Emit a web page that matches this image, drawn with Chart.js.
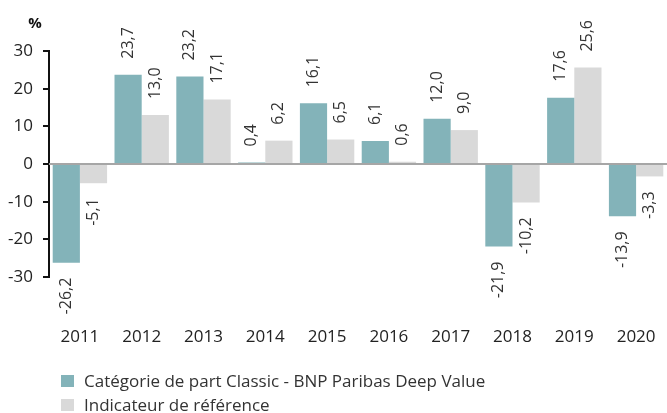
<!DOCTYPE html>
<html>
<head>
<meta charset="utf-8">
<script src="https://cdn.jsdelivr.net/npm/chart.js@4"></script>
<style>
  html, body { margin: 0; padding: 0; background: #fff; }
  #wrap { position: relative; width: 667px; height: 413px; }
</style>
</head>
<body>
<div id="wrap"><canvas id="chart1" width="667" height="413"></canvas></div>
<script>
const years = ['2011','2012','2013','2014','2015','2016','2017','2018','2019','2020'];
const fundVals = [-26.2, 23.7, 23.2, 0.4, 16.1, 6.1, 12.0, -21.9, 17.6, -13.9];
const benchVals = [-5.1, 13.0, 17.1, 6.2, 6.5, 0.6, 9.0, -10.2, 25.6, -3.3];
const seriesNames = ['Catégorie de part Classic - BNP Paribas Deep Value', 'Indicateur de référence'];
const yTicks = [-30, -20, -10, 0, 10, 20, 30];

const colorHex = ['#83b3b9', '#d9d9d9'];
const fontName = "'Open Sans', 'DejaVu Sans', sans-serif";

// value labels, rotated, above or below each bar
const barLabels = {
  id: 'barLabels',
  afterDatasetsDraw(chart) {
    let ctx = chart.ctx;
    ctx.save();
    ctx.font = '16px ' + fontName;
    ctx.fillStyle = '#333';
    chart.data.datasets.forEach((ds, i) => {
      chart.getDatasetMeta(i).data.forEach((bar, j) => {
        let v = ds.data[j];
        let txt = v.toFixed(1).replace('.', ',');
        ctx.save();
        ctx.translate(bar.x, bar.y);
        ctx.rotate(-Math.PI / 2);
        ctx.textBaseline = 'middle';
        if (v >= 0) {
          ctx.textAlign = 'left';
          ctx.fillText(txt, 16, 0);
        } else {
          ctx.textAlign = 'right';
          ctx.fillText(txt, -15, 0);
        }
        ctx.restore();
      });
    });
    ctx.restore();
  }
};

// zero line + % label + legend
const extras = {
  id: 'extras',
  beforeDatasetsDraw(chart) {
    let ctx = chart.ctx;
    let y0 = chart.scales.y.getPixelForValue(0);
    ctx.save();
    ctx.strokeStyle = '#a6a6a6';
    ctx.lineWidth = 2;
    ctx.beginPath();
    ctx.moveTo(chart.chartArea.left, y0);
    ctx.lineTo(chart.chartArea.right, y0);
    ctx.stroke();
    ctx.restore();
  },
  afterDraw(chart) {
    let ctx = chart.ctx;
    ctx.save();
    ctx.fillStyle = '#111';
    ctx.font = 'bold 15px ' + fontName;
    ctx.textAlign = 'center';
    ctx.textBaseline = 'middle';
    ctx.fillText('%', 35, 24);
    ctx.font = '17px ' + fontName;
    ctx.textAlign = 'left';
    seriesNames.forEach((name, i) => {
      let y = 381 + i * 24;
      ctx.fillStyle = colorHex[i];
      ctx.fillRect(61, y - 6, 13, 12);
      ctx.fillStyle = '#333';
      ctx.fillText(name, 84, y + 1);
    });
    ctx.restore();
  }
};

let ctx1 = document.getElementById('chart1').getContext('2d');
let myChart = new Chart(ctx1, {
  type: 'bar',
  data: {
    labels: years,
    datasets: [
      { label: seriesNames[0], data: fundVals, backgroundColor: colorHex[0] },
      { label: seriesNames[1], data: benchVals, backgroundColor: colorHex[1] }
    ]
  },
  options: {
    responsive: false,
    animation: false,
    layout: { padding: { top: 51, right: 0, left: 0, bottom: 0 } },
    datasets: { bar: { barPercentage: 1, categoryPercentage: 0.88 } },
    plugins: { legend: { display: false }, tooltip: { enabled: false } },
    scales: {
      x: {
        grid: { display: false, drawTicks: true, tickLength: 50 },
        border: { display: false },
        ticks: { color: '#222', font: { family: fontName, size: 17 }, padding: 0 },
        afterFit(scale) { scale.height = 136; scale.paddingLeft = 0; scale.paddingRight = 0; }
      },
      y: {
        min: -30,
        max: 30,
        afterBuildTicks(scale) { scale.ticks = yTicks.map(v => ({ value: v })); },
        afterFit(scale) { scale.width = 49; },
        grid: { drawOnChartArea: false, drawTicks: true, tickLength: 6, color: '#111', lineWidth: 2 },
        border: { color: '#111', width: 2 },
        ticks: { color: '#222', font: { family: fontName, size: 17 }, padding: 10 }
      }
    }
  },
  plugins: [extras, barLabels]
});
</script>
</body>
</html>
